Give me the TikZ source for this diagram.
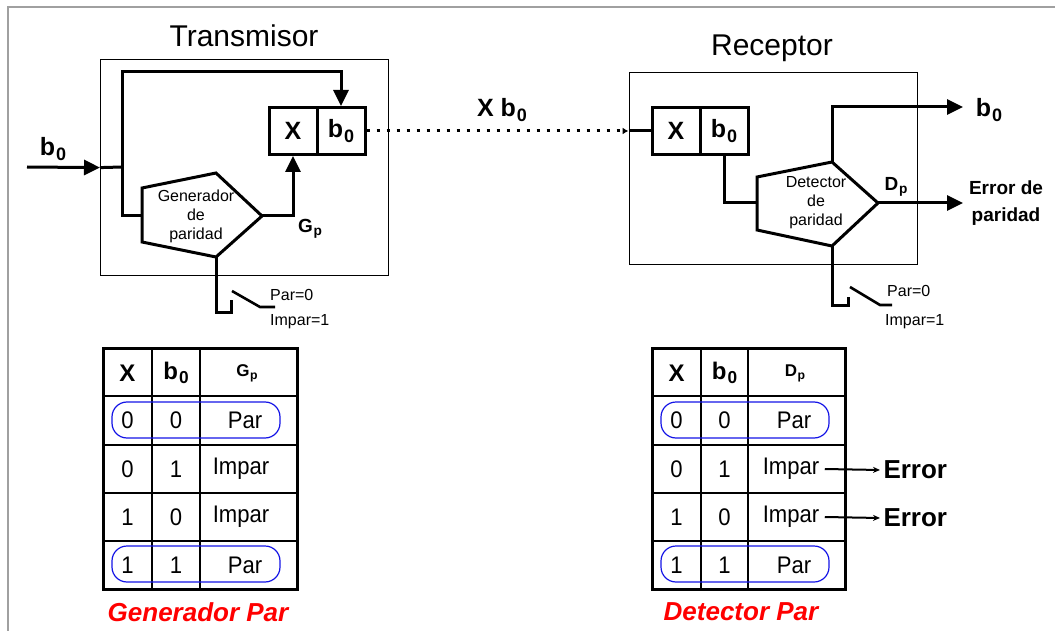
\documentclass[tikz,border=0pt]{standalone}
\usepackage{fontspec}
\setmainfont{Liberation Sans}
\newfontfamily\narrowsans[FakeStretch=0.92]{Liberation Sans}
\usetikzlibrary{arrows.meta,calc}

% letter with a lowered, smaller index
\newcommand{\lowsub}[2]{#1\kern0.04em\raisebox{-0.18em}{\scalebox{0.72}{#2}}}

\definecolor{framegray}{RGB}{160,160,160}
\definecolor{ovalblue}{RGB}{20,20,230}
\definecolor{capred}{RGB}{255,0,0}

\tikzset{
  wire/.style={line width=3pt},
  bigtip/.style={-{Triangle[length=16pt,width=15pt]}},
  unitbox/.style={draw,line width=1.2pt,anchor=north west,inner sep=0pt},
  regcell/.style={draw,line width=3pt,minimum width=48pt,minimum height=47pt,inner sep=0pt,
    font=\bfseries\fontsize{25}{30}\selectfont},
  titletext/.style={font=\fontsize{30}{34}\selectfont},
  blocktext/.style={align=center,font=\fontsize{16}{19}\selectfont},
  swtext/.style={anchor=west,inner sep=0pt,font=\fontsize{16}{19}\selectfont},
  biglabel/.style={font=\bfseries\fontsize{25}{30}\selectfont},
  midlabel/.style={align=center,font=\bfseries\fontsize{19}{27}\selectfont},
  cell/.style={font=\narrowsans\fontsize{24}{28}\selectfont},
  headcell/.style={font=\bfseries\fontsize{24}{28}\selectfont},
  smallhead/.style={font=\bfseries\fontsize{17}{20}\selectfont},
  errlabel/.style={font=\bfseries\fontsize{26}{30}\selectfont},
  caption/.style={text=capred,font=\bfseries\itshape\fontsize{26}{30}\selectfont},
  oval/.style={draw=ovalblue,line width=1.2pt,rounded corners=15pt},
  outer/.style={line width=3pt},
  inner/.style={line width=2pt},
}

\begin{document}
\begin{tikzpicture}[x=1pt,y=-1pt]
\useasboundingbox (0,0) rectangle (1055,631);

% page frame
\draw[framegray,line width=2pt] (7.5,631) -- (7.5,7.5) -- (1055,7.5);

% ---------------- Transmitter ----------------
\node[unitbox,minimum width=288pt,minimum height=216pt] (txbox) at (100,59) {};
\node[titletext] (txtitle) at (244,36) {Transmisor};

\node[regcell] (txX) at (293,131) {X};
\node[regcell] (txb) at (341,131) {\lowsub{b}{0}};

% parity generator block
\coordinate (gA)  at (142,188);
\coordinate (gT)  at (216,173);
\coordinate (gR)  at (262,216);
\coordinate (gB)  at (216,257);
\coordinate (gBL) at (142,242);
\coordinate (gL)  at (142,216);
\draw[wire] (gA) -- (gT) -- (gR) -- (gB) -- (gBL) -- cycle;
\node[blocktext] (gen) at (196,216) {Generador\\de\\paridad};

% data input
\coordinate (inS) at (27,167);
\coordinate (jn) at (122,167);
\node[biglabel] (b0in) at (53,149) {\lowsub{b}{0}};
\draw[wire,bigtip] (inS) -- (txbox.west);
\draw[wire] (txbox.west) -- (jn);
\draw[wire,bigtip] (gL) -- (122,216) -- (122,72) -| (txb.north);

% generator output into the X cell
\draw[wire,bigtip] (gR) -| (txX.south);
\node[font=\bfseries\fontsize{19}{22}\selectfont] (gp) at (310,229) {\lowsub{G}{p}};

% parity select switch
\coordinate (tsw1) at (231,312);
\draw[wire] (gB) -- (216,312) -- (tsw1) -- (231,300);
\draw[wire,line width=2.6pt] (232,291) -- (260,307) -- (275,307);
\node[swtext] (tpar) at (270,295) {Par=0};
\node[swtext] (timp) at (270,322) {Impar=1};

% ---------------- Channel ----------------
\node[biglabel] (chan) at (502,110) {X \lowsub{b}{0}};

% ---------------- Receiver ----------------
\node[unitbox,minimum width=288.5pt,minimum height=192pt] (rxbox) at (628.5,72) {};
\node[titletext] (rxtitle) at (772,48) {Receptor};

\node[regcell] (rxX) at (676,131) {X};
\node[regcell] (rxb) at (724,131) {\lowsub{b}{0}};

\draw[line width=3pt,dash pattern=on 3pt off 7pt,-{Latex[length=6pt,width=7pt]}]
  (txb.east) -- (rxbox.west |- txb.east);
\draw[wire] (rxbox.west |- txb.east) -- (rxX.west);

% parity detector block
\coordinate (dA)  at (757,177);
\coordinate (dT)  at (832,162);
\coordinate (dR)  at (878,203);
\coordinate (dB)  at (832,246);
\coordinate (dBL) at (757,230);
\coordinate (dL)  at (757,203);
\draw[wire] (dA) -- (dT) -- (dR) -- (dB) -- (dBL) -- cycle;
\node[blocktext] (det) at (816,203) {Detector\\de\\paridad};

\draw[wire] (rxb.south) |- (dL);

% outputs
\coordinate (bout) at (963,107);
\coordinate (eout) at (963,203);
\draw[wire,bigtip] (dT) -- (832,107) -- (bout);
\node[biglabel] (b0out) at (989,110) {\lowsub{b}{0}};
\draw[wire,bigtip] (dR) -- (eout);
\node[font=\bfseries\fontsize{19}{22}\selectfont] (dp) at (896,187) {\lowsub{D}{p}};
\node[midlabel] (errout) at (1006,203) {Error de\\paridad};

% parity select switch
\draw[wire] (dB) -- (832,305) -- (848,305) -- (848,297);
\draw[wire,line width=2.6pt] (850,287) -- (880,305) -- (892,305);
\node[swtext] (rpar) at (887,291) {Par=0};
\node[swtext] (rimp) at (885,322) {Impar=1};

% ---------------- Generator truth table ----------------
\draw[inner] (152,348) -- (152,589) (200,348) -- (200,589);
\draw[inner] (103,396) -- (297,396) (103,445) -- (297,445)
             (103,493) -- (297,493) (103,541) -- (297,541);
\draw[outer] (103,348) rectangle (297,589);

\node[headcell] (ga1) at (127.5,373) {X};
\node[headcell] (ga2) at (176,373) {\lowsub{b}{0}};
\node[smallhead] (ga3) at (247,373) {\lowsub{G}{p}};

\node[cell] (g11) at (127.5,420.5) {0};
\node[cell] (g12) at (176,420.5) {0};
\node[cell] (g13) at (245,420.5) {Par};
\node[cell] (g21) at (127.5,469) {0};
\node[cell] (g22) at (176,469) {1};
\node[cell] (g23) at (241,469) {Impar};
\node[cell] (g31) at (127.5,517) {1};
\node[cell] (g32) at (176,517) {0};
\node[cell] (g33) at (241,517) {Impar};
\node[cell] (g41) at (127.5,565) {1};
\node[cell] (g42) at (176,565) {1};
\node[cell] (g43) at (245,565) {Par};

\draw[oval] (112,402) rectangle (280,438);
\draw[oval] (112,546) rectangle (280,582);

\node[caption] (gcap) at (198,612) {Generador Par};

% ---------------- Detector truth table ----------------
\draw[inner] (701,348) -- (701,589) (748,348) -- (748,589);
\draw[inner] (652,396) -- (845,396) (652,445) -- (845,445)
             (652,493) -- (845,493) (652,541) -- (845,541);
\draw[outer] (652,348) rectangle (845,589);

\node[headcell] (da1) at (676.5,373) {X};
\node[headcell] (da2) at (724.5,373) {\lowsub{b}{0}};
\node[smallhead] (da3) at (795,373) {\lowsub{D}{p}};

\node[cell] (d11) at (676.5,420.5) {0};
\node[cell] (d12) at (724.5,420.5) {0};
\node[cell] (d13) at (794,420.5) {Par};
\node[cell] (d21) at (676.5,469) {0};
\node[cell] (d22) at (724.5,469) {1};
\node[cell] (d23) at (791,469) {Impar};
\node[cell] (d31) at (676.5,517) {1};
\node[cell] (d32) at (724.5,517) {0};
\node[cell] (d33) at (791,517) {Impar};
\node[cell] (d41) at (676.5,565) {1};
\node[cell] (d42) at (724.5,565) {1};
\node[cell] (d43) at (794,565) {Par};

\draw[oval] (661,402) rectangle (829,438);
\draw[oval] (661,546) rectangle (829,582);

\node[errlabel,anchor=west] (err1) at (880,470) {Error};
\node[errlabel,anchor=west] (err2) at (880,518) {Error};
\draw[line width=2pt,-{Stealth[length=7pt,width=6pt]}] (d23.east) ++(2,0) -- (err1.west);
\draw[line width=2pt,-{Stealth[length=7pt,width=6pt]}] (d33.east) ++(2,0) -- (err2.west);

\node[caption] (dcap) at (741,612) {Detector Par};
\end{tikzpicture}
\end{document}
